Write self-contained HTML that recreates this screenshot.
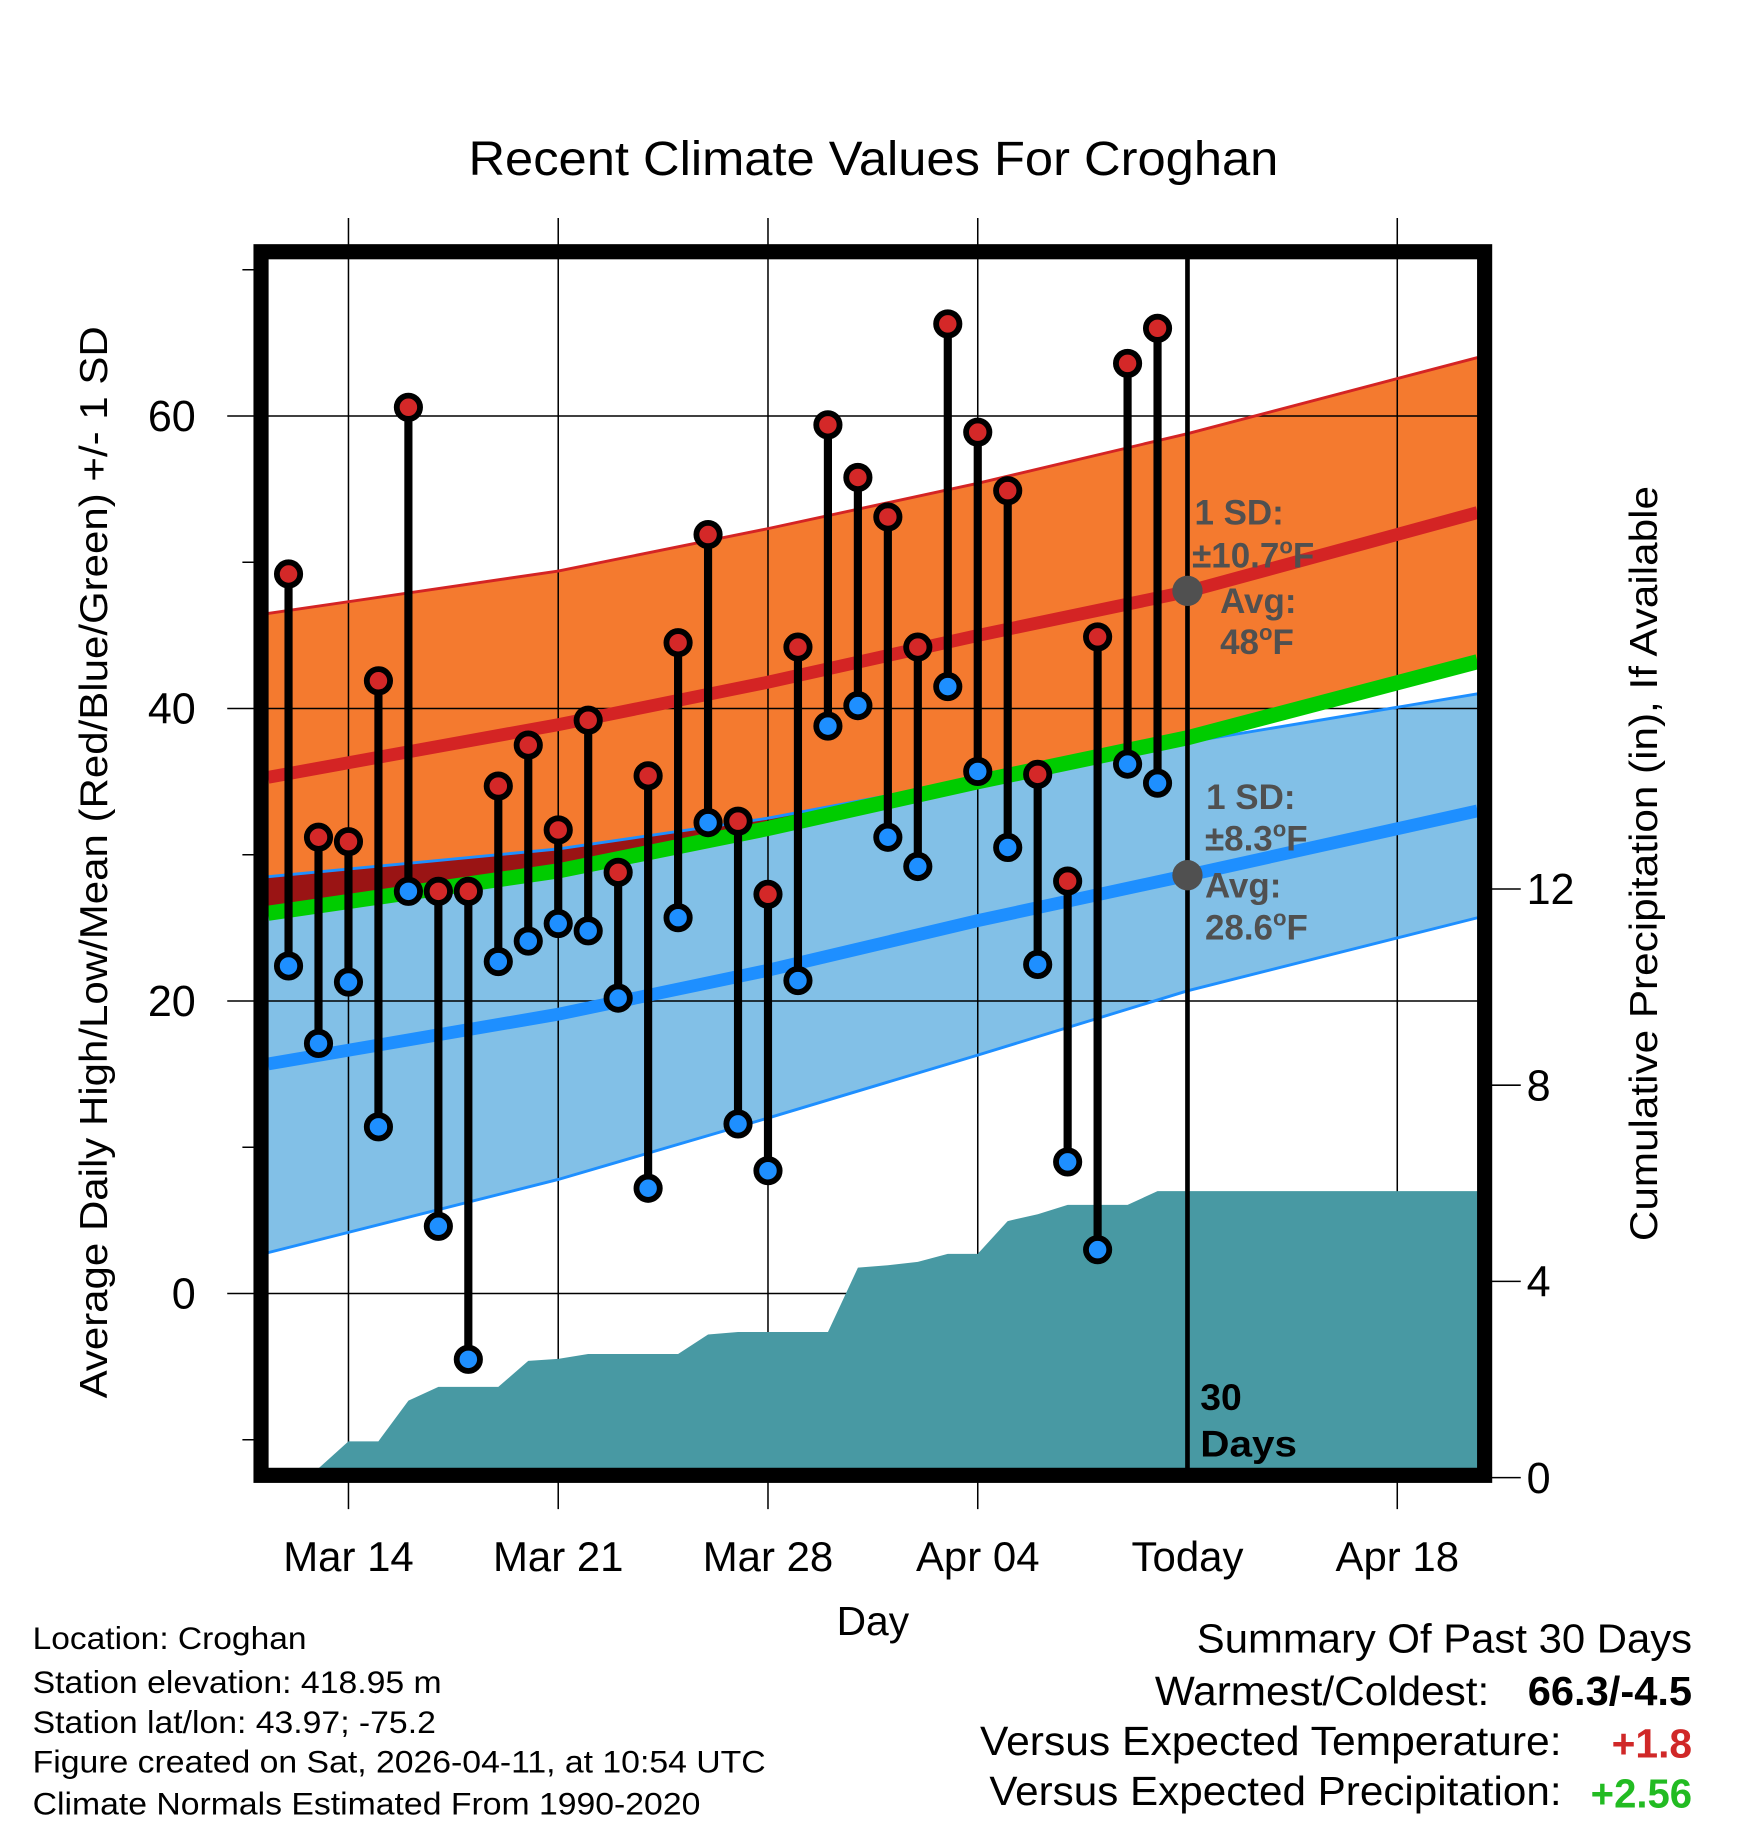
<!DOCTYPE html>
<html><head><meta charset="utf-8"><style>
html,body{margin:0;padding:0;background:#fff;}
svg{display:block;font-family:"Liberation Sans",sans-serif;}
</style></head><body>
<svg id="chart" width="1748" height="1828" viewBox="0 0 1500 1568.6" xmlns="http://www.w3.org/2000/svg">
<text x="402" y="150" font-size="41" textLength="695" lengthAdjust="spacingAndGlyphs">Recent Climate Values For Croghan</text>
<g id="bands"></g>
<g id="grid"></g>
<g id="precip"></g>
<g id="normals"></g>
<g id="marks"></g>
<g id="annot" font-weight="bold" fill="#505050" font-size="30">
<circle cx="1019" cy="507" r="13" fill="#505050"/>
<circle cx="1019" cy="751" r="13" fill="#505050"/>
<text x="1025" y="450">1 SD:</text>
<text x="1023" y="487">±10.7<tspan font-size="19" dy="-12">o</tspan><tspan dy="12">F</tspan></text>
<text x="1047" y="526">Avg:</text>
<text x="1047" y="561">48<tspan font-size="19" dy="-12">o</tspan><tspan dy="12">F</tspan></text>
<text x="1035" y="694">1 SD:</text>
<text x="1034" y="730">±8.3<tspan font-size="19" dy="-12">o</tspan><tspan dy="12">F</tspan></text>
<text x="1034" y="770">Avg:</text>
<text x="1034" y="806">28.6<tspan font-size="19" dy="-12">o</tspan><tspan dy="12">F</tspan></text>
</g>
<text x="1030" y="1210" font-size="32" font-weight="bold">30</text>
<text x="1030" y="1250" font-size="32" font-weight="bold" textLength="83" lengthAdjust="spacingAndGlyphs">Days</text>
<rect x="224" y="216" width="1050" height="1050" fill="none" stroke="#000" stroke-width="13"/>
<g id="axes"></g>
<text transform="translate(92,1200) rotate(-90)" font-size="33" textLength="920" lengthAdjust="spacingAndGlyphs">Average Daily High/Low/Mean (Red/Blue/Green) +/- 1 SD</text>
<text transform="translate(1422,1065) rotate(-90)" font-size="33" textLength="648" lengthAdjust="spacingAndGlyphs">Cumulative Precipitation (in), If Available</text>
<text x="749" y="1403" font-size="35" text-anchor="middle">Day</text>
<g font-size="27">
<text x="28" y="1415" textLength="235" lengthAdjust="spacingAndGlyphs">Location: Croghan</text>
<text x="28" y="1453" textLength="351" lengthAdjust="spacingAndGlyphs">Station elevation: 418.95 m</text>
<text x="28" y="1487" textLength="346" lengthAdjust="spacingAndGlyphs">Station lat/lon: 43.97; -75.2</text>
<text x="28" y="1521" textLength="629" lengthAdjust="spacingAndGlyphs">Figure created on Sat, 2026-04-11, at 10:54 UTC</text>
<text x="28" y="1557" textLength="573" lengthAdjust="spacingAndGlyphs">Climate Normals Estimated From 1990-2020</text>
</g>
<g font-size="35">
<text x="1027" y="1418" textLength="425" lengthAdjust="spacingAndGlyphs">Summary Of Past 30 Days</text>
<text x="991" y="1463" textLength="287" lengthAdjust="spacingAndGlyphs">Warmest/Coldest:</text>
<text x="1311" y="1463" font-weight="bold" textLength="141" lengthAdjust="spacingAndGlyphs">66.3/-4.5</text>
<text x="841" y="1506" textLength="499" lengthAdjust="spacingAndGlyphs">Versus Expected Temperature:</text>
<text x="1383" y="1508" font-weight="bold" fill="#D02828" textLength="69" lengthAdjust="spacingAndGlyphs">+1.8</text>
<text x="849" y="1549" textLength="491" lengthAdjust="spacingAndGlyphs">Versus Expected Precipitation:</text>
<text x="1365" y="1551" font-weight="bold" fill="#22BB22" textLength="87" lengthAdjust="spacingAndGlyphs">+2.56</text>
</g>
</svg>
<script>
const highs=[49.2,31.2,30.9,41.9,60.6,27.5,27.5,34.7,37.5,31.7,39.2,28.8,35.4,44.5,51.9,32.3,27.3,44.2,59.4,55.8,53.1,44.2,66.3,58.9,54.9,35.5,28.2,44.9,63.6,66.0];
const lows=[22.4,17.1,21.3,11.4,27.5,4.6,-4.5,22.7,24.1,25.3,24.8,20.2,7.2,25.7,32.2,11.6,8.4,21.4,38.8,40.2,31.2,29.2,41.5,35.7,30.5,22.5,9.0,3.0,36.2,34.9];
const precipCum=[0,0,0.74,0.74,1.57,1.85,1.85,1.85,2.38,2.42,2.52,2.52,2.52,2.52,2.92,2.97,2.97,2.97,2.97,4.28,4.33,4.40,4.56,4.56,5.23,5.37,5.56,5.56,5.56,5.84];
const normDays=[-0.68,9,16,23,30,39.68];
const normHighAvg=[35.3,38.9,41.8,45.0,48.0,53.4];
const normHighUpper=[46.5,49.4,52.3,55.4,58.8,64.0];
const normHighLower=[26.0,28.9,31.8,35.0,38.0,43.2];
const normLowAvg=[15.7,19.1,22.1,25.5,28.6,33.0];
const normLowUpper=[28.5,30.4,32.5,35.2,37.7,41.0];
const normLowLower=[2.8,7.8,12.0,16.3,20.7,25.7];
const yTicks=[0,20,40,60];
const yMinor=[-10,10,30,50,70];
const pTicks=[0,4,8,12];
const xLabels=["Mar 14","Mar 21","Mar 28","Apr 04","Today","Apr 18"];
const xLabelDays=[2,9,16,23,30,37];

const NS="http://www.w3.org/2000/svg";
const X0=230,X1=1268,Y0=222,Y1=1260;
function xd(d){return 247.6+d*180/7;}
function yv(v){return 1110-v*12.55;}
function yp(p){return 1268-p*42.1;}
function mk(tag,attrs,parent){const e=document.createElementNS(NS,tag);for(const k in attrs)e.setAttribute(k,attrs[k]);parent.appendChild(e);return e;}
const g=id=>document.getElementById(id);
function pts(arr){return normDays.map((d,i)=>xd(d).toFixed(1)+","+yv(arr[i]).toFixed(1));}

const bands=g('bands');
let e=mk('polygon',{points:pts(normLowUpper).concat(pts(normLowLower).reverse()).join(' '),fill:'#82C0E7'},bands);


e=mk('polygon',{points:pts(normHighUpper).concat(pts(normHighLower).reverse()).join(' '),fill:'#F47A2F'},bands);


const defs=mk('defs',{},bands);
const cp=mk('clipPath',{id:'lowclip'},defs);
mk('polygon',{points:pts(normLowUpper).concat(pts(normLowLower).reverse()).join(' ')},cp);
e=mk('polygon',{points:pts(normHighUpper).concat(pts(normHighLower).reverse()).join(' '),fill:'#9A1414','clip-path':'url(#lowclip)'},bands);



const grid=g('grid');
xLabelDays.forEach((d,i)=>{
  if(i===4)return;
  const l=mk('line',{x1:xd(d),x2:xd(d),y1:187,y2:1295,stroke:'#000','stroke-width':1.3},grid);
  
  
});
yTicks.forEach(v=>{
  const l=mk('line',{x1:195,x2:X1,y1:yv(v),y2:yv(v),stroke:'#000','stroke-width':1.3},grid);
  
  
});
yMinor.forEach(v=>{
  const l=mk('line',{x1:208,x2:222,y1:yv(v),y2:yv(v),stroke:'#000','stroke-width':1.3},grid);
  
  
});

const pp=[xd(-0.68)+","+Y1];
pp.push(xd(-0.68)+","+Math.min(Y1,yp(precipCum[0])));
precipCum.forEach((p,i)=>pp.push(xd(i).toFixed(1)+","+Math.min(Y1,yp(p)).toFixed(1)));
pp.push(X1+","+yp(precipCum[precipCum.length-1]).toFixed(1));
pp.push(X1+","+Y1);
e=mk('polygon',{points:pp.join(' '),fill:'#4899A3'},g('precip'));



const nm=g('normals');
function line(arr,col,w,name){
  const l=mk('polyline',{points:pts(arr).join(' '),fill:'none',stroke:col,'stroke-width':w},nm);
  
  
}
line(normHighUpper,'#D42424',2.5,'high-upper-sd-line');
line(normLowUpper,'#1E8FFF',2.5,'low-upper-sd-line');
line(normLowLower,'#1E8FFF',2.5,'low-lower-sd-line');
line(normHighLower,'#00CC00',13,'mean-line');
line(normHighAvg,'#D42424',11,'avg-high-line');
line(normLowAvg,'#1E8FFF',11,'avg-low-line');
e=mk('line',{x1:1019,x2:1019,y1:Y0,y2:Y1,stroke:'#000','stroke-width':4},nm);



const mg=g('marks');
highs.forEach((h,i)=>{
  const x=xd(i);
  const s=mk('line',{x1:x,x2:x,y1:yv(h),y2:yv(lows[i]),stroke:'#000','stroke-width':7},mg);
  
  
});
highs.forEach((h,i)=>{
  const x=xd(i);
  const c1=mk('circle',{cx:x,cy:yv(h),r:10,fill:'#D42828',stroke:'#000','stroke-width':5},mg);
  
  
  const c2=mk('circle',{cx:x,cy:yv(lows[i]),r:10,fill:'#1E8FFF',stroke:'#000','stroke-width':5},mg);
  
  
});

const ax=g('axes');
yTicks.forEach(v=>{
  const t=mk('text',{x:168,y:yv(v)+13,'font-size':37,'text-anchor':'end'},ax);
  t.textContent=v;
  
  
});
pTicks.forEach(p=>{
  const l=mk('line',{x1:1280,x2:1305,y1:yp(p),y2:yp(p),stroke:'#000','stroke-width':1.3},ax);
  
  
  const t=mk('text',{x:1310,y:yp(p)+13,'font-size':37},ax);
  t.textContent=p;
  
  
});
xLabels.forEach((s,i)=>{
  const t=mk('text',{x:xd(xLabelDays[i]),y:1348,'font-size':36,'text-anchor':'middle'},ax);
  t.textContent=s;
  
  
});
</script>
</body></html>
